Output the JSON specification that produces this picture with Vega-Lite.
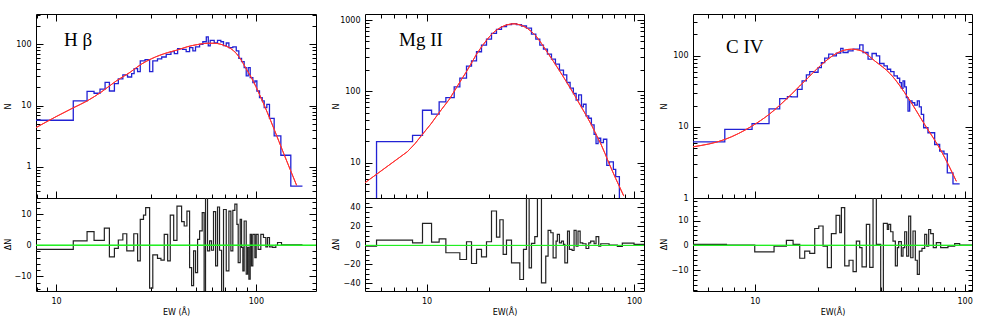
{
"$schema": "https://vega.github.io/schema/vega-lite/v6.json",
"padding": {"left": 3, "top": 13, "right": 0, "bottom": 0},
"background": "white",
"datasets": {
"hb_hist": [{"x":7.94,"y":5.77},{"x":12.2,"y":11.9},{"x":14.3,"y":17.1},{"x":15.5,"y":15.9},{"x":16.6,"y":18.5},{"x":17.6,"y":24.0},{"x":18.5,"y":17.3},{"x":19.6,"y":22.8},{"x":20.5,"y":27.2},{"x":21.6,"y":31.6},{"x":22.8,"y":29.3},{"x":23.9,"y":33.2},{"x":24.6,"y":40.1},{"x":25.6,"y":35.8},{"x":26.4,"y":53.5},{"x":27.9,"y":56.2},{"x":29.4,"y":35.8},{"x":30.5,"y":53.5},{"x":32.2,"y":57.7},{"x":33.8,"y":62.1},{"x":35.6,"y":68.7},{"x":37.6,"y":75.9},{"x":39.1,"y":70.4},{"x":40.6,"y":85},{"x":43.0,"y":82.9},{"x":44.8,"y":76},{"x":46.6,"y":88.2},{"x":48.4,"y":77.9},{"x":49.9,"y":90.5},{"x":52.3,"y":100},{"x":54.3,"y":110},{"x":56.5,"y":132},{"x":57.8,"y":94},{"x":59.1,"y":116},{"x":61.9,"y":105},{"x":64.3,"y":116},{"x":66.8,"y":110},{"x":68.9,"y":95},{"x":71.1,"y":105},{"x":73.3,"y":88.2},{"x":76.7,"y":90.5},{"x":79.8,"y":77.9},{"x":82.2,"y":59.1},{"x":84.8,"y":52.2},{"x":87.4,"y":41.6},{"x":89.5,"y":30.5},{"x":91.6,"y":41.6},{"x":93.7,"y":28.6},{"x":96.6,"y":23.7},{"x":98.9,"y":25.2},{"x":101.2,"y":17.3},{"x":104.3,"y":13.5},{"x":107.6,"y":11.9},{"x":110.1,"y":9.27},{"x":113.5,"y":10.5},{"x":117.0,"y":6.21},{"x":123.5,"y":3.2},{"x":133.4,"y":1.55},{"x":149.6,"y":0.484},{"x":171.1,"y":0.484}],
"hb_fit": [{"x":7.94,"y":4.37},{"x":10,"y":6.6},{"x":12.2,"y":9.2},{"x":14.3,"y":11.9},{"x":17,"y":17},{"x":20,"y":25.2},{"x":23.5,"y":35},{"x":26.6,"y":47},{"x":30,"y":58},{"x":36.1,"y":73},{"x":40.6,"y":81},{"x":45.6,"y":91.6},{"x":51,"y":99},{"x":57.4,"y":104},{"x":62,"y":104},{"x":66.8,"y":100},{"x":71,"y":93},{"x":75,"y":85},{"x":79.8,"y":71},{"x":84,"y":57},{"x":89,"y":41},{"x":94.2,"y":30},{"x":100,"y":20.5},{"x":106,"y":13.5},{"x":114,"y":7.8},{"x":123.5,"y":4.1},{"x":138,"y":1.64},{"x":160,"y":0.5}],
"hb_res": [{"x":7.94,"y":-1.3},{"x":12.2,"y":1.4},{"x":14.3,"y":4.4},{"x":15.5,"y":1.6},{"x":17.45,"y":5.5},{"x":18.5,"y":-3.7},{"x":19.6,"y":-1.0},{"x":20.5,"y":1.7},{"x":21.6,"y":3.7},{"x":22.6,"y":-1.8},{"x":24.5,"y":3.7},{"x":25.6,"y":-5.0},{"x":26.4,"y":8.3},{"x":27.4,"y":9.7},{"x":28.1,"y":12.1},{"x":29.4,"y":-13.8},{"x":30.5,"y":-3.1},{"x":32.2,"y":-4.2},{"x":33.5,"y":-4.8},{"x":34.8,"y":3.5},{"x":36.2,"y":-5.0},{"x":37.3,"y":9.7},{"x":38.8,"y":1.6},{"x":40.3,"y":12.6},{"x":42.5,"y":7.6},{"x":43.8,"y":6.2},{"x":45.2,"y":11.0},{"x":46.6,"y":-7.2},{"x":47.7,"y":-13.0},{"x":48.8,"y":-1.8},{"x":49.9,"y":-8.8},{"x":51.1,"y":1.9},{"x":52.3,"y":4.6},{"x":53.9,"y":10.5},{"x":55.1,"y":-25},{"x":56.0,"y":25},{"x":57.3,"y":-1.8},{"x":58.7,"y":1.4},{"x":60.0,"y":-1.6},{"x":61.4,"y":10.8},{"x":62.9,"y":-6.6},{"x":64.3,"y":12.3},{"x":65.8,"y":-1.6},{"x":67.4,"y":-25},{"x":68.9,"y":11.5},{"x":71.1,"y":-8.2},{"x":73.3,"y":11.0},{"x":75.0,"y":-1.8},{"x":76.7,"y":11.2},{"x":78.5,"y":13.2},{"x":80.4,"y":6.7},{"x":81.6,"y":-5.6},{"x":83.5,"y":8.3},{"x":84.8,"y":-0.7},{"x":86.1,"y":-8.2},{"x":87.4,"y":7.8},{"x":89.5,"y":-9.3},{"x":90.9,"y":-0.7},{"x":92.3,"y":-10.9},{"x":93.7,"y":3.5},{"x":95.1,"y":-6.6},{"x":96.6,"y":3.5},{"x":98.9,"y":-4.0},{"x":100.4,"y":3.5},{"x":102.7,"y":-1.3},{"x":105.9,"y":3.5},{"x":109.2,"y":2.5},{"x":112.2,"y":-0.5},{"x":114.4,"y":2.5},{"x":117.0,"y":-0.5},{"x":121.2,"y":-0.7},{"x":125.9,"y":0},{"x":128.4,"y":0.9},{"x":134.4,"y":0.1},{"x":171.1,"y":0.1}],
"hb_zero": [{"x":7.94,"y":0},{"x":200,"y":0}],
"mg_hist": [{"x":5.73,"y":1},{"x":5.74,"y":19.7},{"x":8.56,"y":24.1},{"x":9.56,"y":54.3},{"x":10.57,"y":47.8},{"x":11.5,"y":71.2},{"x":12.39,"y":81.9},{"x":13.59,"y":115.7},{"x":14.47,"y":153},{"x":15.58,"y":226},{"x":16.47,"y":268},{"x":17.41,"y":359},{"x":18.40,"y":445},{"x":19.45,"y":541},{"x":20.56,"y":650},{"x":21.73,"y":739},{"x":22.97,"y":806},{"x":24.28,"y":860},{"x":25.67,"y":888},{"x":27.13,"y":860},{"x":28.68,"y":824},{"x":30.31,"y":772},{"x":32.04,"y":636},{"x":33.62,"y":541},{"x":35.14,"y":445},{"x":36.6,"y":391},{"x":38.25,"y":333},{"x":40.0,"y":283},{"x":41.8,"y":241},{"x":43.7,"y":198},{"x":45.7,"y":170},{"x":47.4,"y":133},{"x":49.2,"y":110.8},{"x":51.0,"y":93.3},{"x":52.6,"y":75.2},{"x":54.1,"y":89.4},{"x":55.8,"y":60.6},{"x":57.0,"y":66.0},{"x":58.7,"y":45.3},{"x":60.5,"y":42.0},{"x":62.3,"y":33.8},{"x":64.2,"y":25.0},{"x":65.6,"y":18.5},{"x":67.1,"y":22.0},{"x":69.1,"y":19.1},{"x":71.2,"y":21.3},{"x":73.9,"y":9.17},{"x":76.1,"y":10.3},{"x":79.5,"y":8.06},{"x":81.6,"y":6.36},{"x":85.0,"y":1}],
"mg_fit": [{"x":5.05,"y":5.24},{"x":8.09,"y":14.3},{"x":8.8,"y":18.5},{"x":9.56,"y":25.0},{"x":10.5,"y":35},{"x":11.5,"y":50.4},{"x":12.9,"y":78},{"x":14.47,"y":135},{"x":15.5,"y":185},{"x":16.47,"y":250},{"x":17.4,"y":330},{"x":18.4,"y":420},{"x":19.45,"y":520},{"x":20.56,"y":630},{"x":21.7,"y":720},{"x":23,"y":800},{"x":24.3,"y":855},{"x":25.67,"y":882},{"x":26.5,"y":885},{"x":27.5,"y":872},{"x":28.7,"y":840},{"x":30.31,"y":780},{"x":32,"y":690},{"x":33.62,"y":600},{"x":35.8,"y":470},{"x":38.25,"y":350},{"x":40.9,"y":262},{"x":43.7,"y":195},{"x":46.4,"y":148},{"x":49.2,"y":112},{"x":52.2,"y":84},{"x":55.4,"y":62},{"x":58.8,"y":46},{"x":62.3,"y":34},{"x":65.6,"y":25},{"x":69.1,"y":18.5},{"x":72.5,"y":13.4},{"x":76.1,"y":9.5},{"x":81.6,"y":6.0},{"x":89.3,"y":3.4}],
"mg_res": [{"x":5.05,"y":-0.7},{"x":5.74,"y":5.6},{"x":8.56,"y":2.8},{"x":9.56,"y":23.2},{"x":10.57,"y":3.5},{"x":11.5,"y":7.0},{"x":12.39,"y":-7.7},{"x":14.47,"y":-14.8},{"x":15.58,"y":3.9},{"x":16.47,"y":-19},{"x":17.41,"y":-4.2},{"x":18.40,"y":-12},{"x":19.45,"y":3.9},{"x":20.56,"y":36.3},{"x":21.73,"y":8.8},{"x":22.55,"y":27.1},{"x":23.4,"y":-9.5},{"x":24.28,"y":5.6},{"x":25.67,"y":-18.3},{"x":28.15,"y":-35.9},{"x":29.32,"y":-4.2},{"x":30.31,"y":60},{"x":31.22,"y":-23.6},{"x":32.04,"y":2.1},{"x":33.24,"y":9.2},{"x":34.23,"y":60},{"x":35.79,"y":-39.4},{"x":37.54,"y":-11.3},{"x":38.53,"y":15.8},{"x":39.7,"y":13.4},{"x":40.74,"y":-13},{"x":42.1,"y":4.6},{"x":42.7,"y":11.6},{"x":43.7,"y":2.8},{"x":44.7,"y":4.6},{"x":45.7,"y":1.1},{"x":46.4,"y":-18.3},{"x":47.8,"y":15.1},{"x":48.8,"y":-4.2},{"x":50.3,"y":-5.3},{"x":51.4,"y":15.8},{"x":52.6,"y":-0.7},{"x":53.7,"y":15.1},{"x":55.0,"y":2.8},{"x":56.6,"y":1.8},{"x":58.7,"y":-3.2},{"x":60.5,"y":2.8},{"x":61.8,"y":4.6},{"x":64.2,"y":1.8},{"x":65.6,"y":9.2},{"x":67.6,"y":-0.7},{"x":69.1,"y":1.8},{"x":75.8,"y":0.4},{"x":83.1,"y":-1},{"x":87.8,"y":2.5},{"x":100,"y":1.1},{"x":111.7,"y":1.1}],
"mg_zero": [{"x":5.05,"y":0},{"x":111.7,"y":0}],
"civ_hist": [{"x":5.08,"y":6.18},{"x":7.2,"y":9.22},{"x":9.71,"y":11.1},{"x":11.7,"y":18.0},{"x":13.15,"y":25.0},{"x":14.31,"y":26.7},{"x":14.95,"y":26.4},{"x":15.97,"y":33.8},{"x":16.81,"y":44.4},{"x":17.62,"y":53.9},{"x":18.28,"y":60.1},{"x":19.1,"y":58.8},{"x":20.03,"y":68.4},{"x":20.77,"y":80.5},{"x":21.54,"y":92.7},{"x":22.51,"y":105.6},{"x":23.6,"y":100},{"x":24.49,"y":109},{"x":25.68,"y":127},{"x":26.34,"y":111.4},{"x":27.83,"y":117.6},{"x":29.4,"y":124.2},{"x":31.62,"y":143},{"x":32.8,"y":111.4},{"x":34.66,"y":89.7},{"x":36.21,"y":107.9},{"x":37.96,"y":100},{"x":39.37,"y":78.0},{"x":41.29,"y":72.3},{"x":42.82,"y":64.8},{"x":44.42,"y":60.1},{"x":46.08,"y":52.2},{"x":47.8,"y":48.4},{"x":49.04,"y":42.0},{"x":49.94,"y":35.0},{"x":50.86,"y":44.4},{"x":51.8,"y":36.5},{"x":52.75,"y":25.8},{"x":53.73,"y":16.7},{"x":54.72,"y":23.2},{"x":56.14,"y":21.9},{"x":57.82,"y":20.3},{"x":59.5,"y":23.2},{"x":60.82,"y":19.1},{"x":62.17,"y":15.0},{"x":63.78,"y":9.73},{"x":66.87,"y":8.28},{"x":71.97,"y":5.66},{"x":76.03,"y":4.56},{"x":79.7,"y":4.18},{"x":82.67,"y":2.25},{"x":87.99,"y":1.58},{"x":94.67,"y":1.58}],
"civ_fit": [{"x":5.08,"y":5.25},{"x":7.2,"y":6.66},{"x":9.71,"y":10.3},{"x":11.7,"y":15.0},{"x":14.95,"y":28.8},{"x":17.96,"y":49.4},{"x":21.54,"y":82.3},{"x":24.9,"y":111},{"x":28.86,"y":124},{"x":32.2,"y":117.6},{"x":37.27,"y":85},{"x":44.42,"y":55.1},{"x":53.73,"y":25.8},{"x":64.5,"y":10.8},{"x":77.4,"y":4.56},{"x":91.3,"y":1.72}],
"civ_res": [{"x":5.08,"y":0.4},{"x":7.33,"y":0.1},{"x":10.0,"y":-2.6},{"x":12.36,"y":-0.3},{"x":14.15,"y":2.0},{"x":15.23,"y":0.4},{"x":16.38,"y":-5.2},{"x":17.3,"y":-2.3},{"x":18.28,"y":-3.2},{"x":19.31,"y":6.8},{"x":20.18,"y":7.8},{"x":21.16,"y":-0.3},{"x":22.18,"y":-9.0},{"x":23.18,"y":4.7},{"x":24.4,"y":12.1},{"x":25.4,"y":5.1},{"x":25.87,"y":15.2},{"x":26.83,"y":-8.3},{"x":28.14,"y":-6.0},{"x":29.4,"y":-10.6},{"x":30.48,"y":1.7},{"x":31.62,"y":-0.9},{"x":32.44,"y":-8.7},{"x":34.02,"y":8.5},{"x":35.3,"y":-8.9},{"x":36.61,"y":25},{"x":37.96,"y":0.4},{"x":39.81,"y":-25},{"x":41.0,"y":8.9},{"x":42.82,"y":6.4},{"x":43.46,"y":8.5},{"x":44.42,"y":5.5},{"x":45.57,"y":1.7},{"x":46.76,"y":-8.3},{"x":47.8,"y":-0.9},{"x":48.5,"y":1.5},{"x":49.94,"y":-4.3},{"x":50.86,"y":-0.9},{"x":51.8,"y":5.5},{"x":52.94,"y":-4.3},{"x":54.12,"y":11.8},{"x":55.33,"y":-5.0},{"x":56.75,"y":5.8},{"x":58.22,"y":-6.0},{"x":59.5,"y":-11.7},{"x":60.82,"y":-2.3},{"x":62.62,"y":-1.2},{"x":64.51,"y":4.4},{"x":65.94,"y":-0.3},{"x":67.4,"y":6.4},{"x":68.89,"y":4.7},{"x":70.9,"y":-0.9},{"x":73.3,"y":1.1},{"x":76.86,"y":-0.9},{"x":83.27,"y":-0.3},{"x":89.62,"y":0.7},{"x":94.67,"y":0.1},{"x":108.4,"y":0.1}],
"civ_zero": [{"x":5.08,"y":0},{"x":108.4,"y":0}]
},
"hconcat": [
{"vconcat": [
 {"width": 280, "height": 184,
  "layer": [
   {"data": {"name": "hb_hist"}, "mark": {"type": "line", "interpolate": "step-after", "color": "#2222d4", "strokeWidth": 1.3, "clip": true},
    "encoding": {
     "x": {"field": "x", "type": "quantitative", "scale": {"type": "log", "domain": [7.94, 200], "nice": false}, "axis": {"orient": "bottom", "values": [10, 100], "labels": false, "tickSize": -7, "title": null}},
     "y": {"field": "y", "type": "quantitative", "scale": {"type": "log", "domain": [0.311, 312], "nice": false}, "axis": {"orient": "left", "values": [1, 10, 100], "format": "d", "tickSize": -7, "labelPadding": 12, "title": "N", "titleAngle": 270, "titleX": -28, "titleY": 92, "titleAlign": "center", "titleBaseline": "middle"}}}},
   {"data": {"name": "hb_fit"}, "mark": {"type": "line", "interpolate": "monotone", "color": "#ff3030", "strokeWidth": 1, "clip": true},
    "encoding": {
     "x": {"field": "x", "type": "quantitative", "scale": {"type": "log", "domain": [7.94, 200], "nice": false}, "axis": {"orient": "bottom", "values": [8, 9, 20, 30, 40, 50, 60, 70, 80, 90], "labels": false, "tickSize": -4, "title": null}},
     "y": {"field": "y", "type": "quantitative", "scale": {"type": "log", "domain": [0.311, 312], "nice": false}, "axis": {"orient": "left", "values": [0.4, 0.5, 0.6, 0.7, 0.8, 0.9, 2, 3, 4, 5, 6, 7, 8, 9, 20, 30, 40, 50, 60, 70, 80, 90, 200, 300], "labels": false, "tickSize": -4, "title": null}}}},
   {"data": {"values": [{"x": 10.96, "y": 93.8, "t": "H β"}]}, "mark": {"type": "text", "align": "left", "baseline": "alphabetic", "font": "Liberation Serif", "fontSize": 19, "color": "black"},
    "encoding": {
     "x": {"field": "x", "type": "quantitative", "scale": {"type": "log", "domain": [7.94, 200], "nice": false}, "axis": {"orient": "top", "values": [10, 100], "labels": false, "tickSize": -7, "title": null}},
     "y": {"field": "y", "type": "quantitative", "scale": {"type": "log", "domain": [0.311, 312], "nice": false}, "axis": {"orient": "right", "values": [1, 10, 100], "labels": false, "tickSize": -7, "title": null}},
     "text": {"field": "t"}}},
   {"data": {"name": "hb_fit"}, "mark": {"type": "line", "interpolate": "monotone", "color": "#ff3030", "strokeWidth": 1, "clip": true},
    "encoding": {
     "x": {"field": "x", "type": "quantitative", "scale": {"type": "log", "domain": [7.94, 200], "nice": false}, "axis": {"orient": "top", "values": [8, 9, 20, 30, 40, 50, 60, 70, 80, 90], "labels": false, "tickSize": -4, "title": null}},
     "y": {"field": "y", "type": "quantitative", "scale": {"type": "log", "domain": [0.311, 312], "nice": false}, "axis": {"orient": "right", "values": [0.4, 0.5, 0.6, 0.7, 0.8, 0.9, 2, 3, 4, 5, 6, 7, 8, 9, 20, 30, 40, 50, 60, 70, 80, 90, 200, 300], "labels": false, "tickSize": -4, "title": null}}}}
  ],
  "resolve": {"axis": {"x": "independent", "y": "independent"}}},
 {"width": 280, "height": 93,
  "layer": [
   {"data": {"name": "hb_res"}, "mark": {"type": "line", "interpolate": "step-after", "color": "#222222", "strokeWidth": 1.2, "clip": true},
    "encoding": {
     "x": {"field": "x", "type": "quantitative", "scale": {"type": "log", "domain": [7.94, 200], "nice": false}, "axis": {"orient": "bottom", "values": [10, 100], "format": "d", "tickSize": -7, "labelPadding": 13, "title": "EW (Å)", "titleY": 21, "titleBaseline": "middle"}},
     "y": {"field": "y", "type": "quantitative", "scale": {"domain": [-14.7, 15.2], "nice": false, "zero": false}, "axis": {"orient": "left", "values": [-10, 0, 10], "format": "d", "tickSize": -7, "labelPadding": 12, "title": "ΔN", "titleAngle": 270, "titleX": -28, "titleY": 46, "titleAlign": "center", "titleBaseline": "middle"}}}},
   {"data": {"name": "hb_zero"}, "mark": {"type": "line", "color": "#22ee22", "strokeWidth": 1, "clip": true},
    "encoding": {
     "x": {"field": "x", "type": "quantitative", "scale": {"type": "log", "domain": [7.94, 200], "nice": false}, "axis": {"orient": "bottom", "values": [8, 9, 20, 30, 40, 50, 60, 70, 80, 90], "labels": false, "tickSize": -4, "title": null}},
     "y": {"field": "y", "type": "quantitative", "scale": {"domain": [-14.7, 15.2], "nice": false, "zero": false}, "axis": {"orient": "left", "values": [-14, -12, -8, -6, -4, -2, 2, 4, 6, 8, 12, 14], "labels": false, "tickSize": -4, "title": null}}}},
   {"data": {"name": "hb_zero"}, "mark": {"type": "line", "color": "#22ee22", "strokeWidth": 1, "clip": true},
    "encoding": {
     "x": {"field": "x", "type": "quantitative", "scale": {"type": "log", "domain": [7.94, 200], "nice": false}, "axis": null},
     "y": {"field": "y", "type": "quantitative", "scale": {"domain": [-14.7, 15.2], "nice": false, "zero": false}, "axis": {"orient": "right", "values": [-10, 0, 10], "labels": false, "tickSize": -7, "title": null}}}},
   {"data": {"name": "hb_zero"}, "mark": {"type": "line", "color": "#22ee22", "strokeWidth": 1, "clip": true},
    "encoding": {
     "x": {"field": "x", "type": "quantitative", "scale": {"type": "log", "domain": [7.94, 200], "nice": false}, "axis": null},
     "y": {"field": "y", "type": "quantitative", "scale": {"domain": [-14.7, 15.2], "nice": false, "zero": false}, "axis": {"orient": "right", "values": [-14, -12, -8, -6, -4, -2, 2, 4, 6, 8, 12, 14], "labels": false, "tickSize": -4, "title": null}}}}
  ],
  "resolve": {"axis": {"x": "independent", "y": "independent"}}}
 ], "spacing": 0, "bounds": "flush"},
{"vconcat": [
 {"width": 279, "height": 184,
  "layer": [
   {"data": {"name": "mg_hist"}, "mark": {"type": "line", "interpolate": "step-after", "color": "#2222d4", "strokeWidth": 1.3, "clip": true},
    "encoding": {
     "x": {"field": "x", "type": "quantitative", "scale": {"type": "log", "domain": [5.05, 111.7], "nice": false}, "axis": {"orient": "bottom", "values": [10, 100], "labels": false, "tickSize": -7, "title": null}},
     "y": {"field": "y", "type": "quantitative", "scale": {"type": "log", "domain": [3.2, 1214], "nice": false}, "axis": {"orient": "left", "values": [10, 100, 1000], "format": "d", "tickSize": -7, "labelPadding": 12, "title": "N", "titleAngle": 270, "titleX": -29, "titleY": 92, "titleAlign": "center", "titleBaseline": "middle"}}}},
   {"data": {"name": "mg_fit"}, "mark": {"type": "line", "interpolate": "linear", "color": "#ff3030", "strokeWidth": 1, "clip": true},
    "encoding": {
     "x": {"field": "x", "type": "quantitative", "scale": {"type": "log", "domain": [5.05, 111.7], "nice": false}, "axis": {"orient": "bottom", "values": [6, 7, 8, 9, 20, 30, 40, 50, 60, 70, 80, 90], "labels": false, "tickSize": -4, "title": null}},
     "y": {"field": "y", "type": "quantitative", "scale": {"type": "log", "domain": [3.2, 1214], "nice": false}, "axis": {"orient": "left", "values": [4, 5, 6, 7, 8, 9, 20, 30, 40, 50, 60, 70, 80, 90, 200, 300, 400, 500, 600, 700, 800, 900], "labels": false, "tickSize": -4, "title": null}}}},
   {"data": {"values": [{"x": 7.37, "y": 435, "t": "Mg II"}]}, "mark": {"type": "text", "align": "left", "baseline": "alphabetic", "font": "Liberation Serif", "fontSize": 19, "color": "black"},
    "encoding": {
     "x": {"field": "x", "type": "quantitative", "scale": {"type": "log", "domain": [5.05, 111.7], "nice": false}, "axis": {"orient": "top", "values": [10, 100], "labels": false, "tickSize": -7, "title": null}},
     "y": {"field": "y", "type": "quantitative", "scale": {"type": "log", "domain": [3.2, 1214], "nice": false}, "axis": {"orient": "right", "values": [10, 100, 1000], "labels": false, "tickSize": -7, "title": null}},
     "text": {"field": "t"}}},
   {"data": {"name": "mg_fit"}, "mark": {"type": "line", "interpolate": "linear", "color": "#ff3030", "strokeWidth": 1, "clip": true},
    "encoding": {
     "x": {"field": "x", "type": "quantitative", "scale": {"type": "log", "domain": [5.05, 111.7], "nice": false}, "axis": {"orient": "top", "values": [6, 7, 8, 9, 20, 30, 40, 50, 60, 70, 80, 90], "labels": false, "tickSize": -4, "title": null}},
     "y": {"field": "y", "type": "quantitative", "scale": {"type": "log", "domain": [3.2, 1214], "nice": false}, "axis": {"orient": "right", "values": [4, 5, 6, 7, 8, 9, 20, 30, 40, 50, 60, 70, 80, 90, 200, 300, 400, 500, 600, 700, 800, 900], "labels": false, "tickSize": -4, "title": null}}}}
  ],
  "resolve": {"axis": {"x": "independent", "y": "independent"}}},
 {"width": 279, "height": 93,
  "layer": [
   {"data": {"name": "mg_res"}, "mark": {"type": "line", "interpolate": "step-after", "color": "#222222", "strokeWidth": 1.2, "clip": true},
    "encoding": {
     "x": {"field": "x", "type": "quantitative", "scale": {"type": "log", "domain": [5.05, 111.7], "nice": false}, "axis": {"orient": "bottom", "values": [10, 100], "format": "d", "tickSize": -7, "labelPadding": 13, "title": "EW(Å)", "titleY": 21, "titleBaseline": "middle"}},
     "y": {"field": "y", "type": "quantitative", "scale": {"domain": [-48, 50], "nice": false, "zero": false}, "axis": {"orient": "left", "values": [-40, -20, 0, 20, 40], "format": "d", "tickSize": -7, "labelPadding": 12, "title": "ΔN", "titleAngle": 270, "titleX": -29, "titleY": 46, "titleAlign": "center", "titleBaseline": "middle"}}}},
   {"data": {"name": "mg_zero"}, "mark": {"type": "line", "color": "#22ee22", "strokeWidth": 1, "clip": true},
    "encoding": {
     "x": {"field": "x", "type": "quantitative", "scale": {"type": "log", "domain": [5.05, 111.7], "nice": false}, "axis": {"orient": "bottom", "values": [6, 7, 8, 9, 20, 30, 40, 50, 60, 70, 80, 90], "labels": false, "tickSize": -4, "title": null}},
     "y": {"field": "y", "type": "quantitative", "scale": {"domain": [-48, 50], "nice": false, "zero": false}, "axis": {"orient": "left", "values": [-45, -35, -30, -25, -15, -10, -5, 5, 10, 15, 25, 30, 35, 45], "labels": false, "tickSize": -4, "title": null}}}},
   {"data": {"name": "mg_zero"}, "mark": {"type": "line", "color": "#22ee22", "strokeWidth": 1, "clip": true},
    "encoding": {
     "x": {"field": "x", "type": "quantitative", "scale": {"type": "log", "domain": [5.05, 111.7], "nice": false}, "axis": null},
     "y": {"field": "y", "type": "quantitative", "scale": {"domain": [-48, 50], "nice": false, "zero": false}, "axis": {"orient": "right", "values": [-40, -20, 0, 20, 40], "labels": false, "tickSize": -7, "title": null}}}},
   {"data": {"name": "mg_zero"}, "mark": {"type": "line", "color": "#22ee22", "strokeWidth": 1, "clip": true},
    "encoding": {
     "x": {"field": "x", "type": "quantitative", "scale": {"type": "log", "domain": [5.05, 111.7], "nice": false}, "axis": null},
     "y": {"field": "y", "type": "quantitative", "scale": {"domain": [-48, 50], "nice": false, "zero": false}, "axis": {"orient": "right", "values": [-45, -35, -30, -25, -15, -10, -5, 5, 10, 15, 25, 30, 35, 45], "labels": false, "tickSize": -4, "title": null}}}}
  ],
  "resolve": {"axis": {"x": "independent", "y": "independent"}}}
 ], "spacing": 0, "bounds": "flush"},
{"vconcat": [
 {"width": 279, "height": 184,
  "layer": [
   {"data": {"name": "civ_hist"}, "mark": {"type": "line", "interpolate": "step-after", "color": "#2222d4", "strokeWidth": 1.3, "clip": true},
    "encoding": {
     "x": {"field": "x", "type": "quantitative", "scale": {"type": "log", "domain": [5.08, 108.4], "nice": false}, "axis": {"orient": "bottom", "values": [10, 100], "labels": false, "tickSize": -7, "title": null}},
     "y": {"field": "y", "type": "quantitative", "scale": {"type": "log", "domain": [1, 388], "nice": false}, "axis": {"orient": "left", "values": [1, 10, 100], "format": "d", "tickSize": -7, "labelPadding": 12, "title": "N", "titleAngle": 270, "titleX": -29, "titleY": 92, "titleAlign": "center", "titleBaseline": "middle"}}}},
   {"data": {"name": "civ_fit"}, "mark": {"type": "line", "interpolate": "monotone", "color": "#ff3030", "strokeWidth": 1, "clip": true},
    "encoding": {
     "x": {"field": "x", "type": "quantitative", "scale": {"type": "log", "domain": [5.08, 108.4], "nice": false}, "axis": {"orient": "bottom", "values": [6, 7, 8, 9, 20, 30, 40, 50, 60, 70, 80, 90], "labels": false, "tickSize": -4, "title": null}},
     "y": {"field": "y", "type": "quantitative", "scale": {"type": "log", "domain": [1, 388], "nice": false}, "axis": {"orient": "left", "values": [2, 3, 4, 5, 6, 7, 8, 9, 20, 30, 40, 50, 60, 70, 80, 90, 200, 300], "labels": false, "tickSize": -4, "title": null}}}},
   {"data": {"values": [{"x": 7.3, "y": 110, "t": "C IV"}]}, "mark": {"type": "text", "align": "left", "baseline": "alphabetic", "font": "Liberation Serif", "fontSize": 19, "color": "black"},
    "encoding": {
     "x": {"field": "x", "type": "quantitative", "scale": {"type": "log", "domain": [5.08, 108.4], "nice": false}, "axis": {"orient": "top", "values": [10, 100], "labels": false, "tickSize": -7, "title": null}},
     "y": {"field": "y", "type": "quantitative", "scale": {"type": "log", "domain": [1, 388], "nice": false}, "axis": {"orient": "right", "values": [1, 10, 100], "labels": false, "tickSize": -7, "title": null}},
     "text": {"field": "t"}}},
   {"data": {"name": "civ_fit"}, "mark": {"type": "line", "interpolate": "monotone", "color": "#ff3030", "strokeWidth": 1, "clip": true},
    "encoding": {
     "x": {"field": "x", "type": "quantitative", "scale": {"type": "log", "domain": [5.08, 108.4], "nice": false}, "axis": {"orient": "top", "values": [6, 7, 8, 9, 20, 30, 40, 50, 60, 70, 80, 90], "labels": false, "tickSize": -4, "title": null}},
     "y": {"field": "y", "type": "quantitative", "scale": {"type": "log", "domain": [1, 388], "nice": false}, "axis": {"orient": "right", "values": [2, 3, 4, 5, 6, 7, 8, 9, 20, 30, 40, 50, 60, 70, 80, 90, 200, 300], "labels": false, "tickSize": -4, "title": null}}}}
  ],
  "resolve": {"axis": {"x": "independent", "y": "independent"}}},
 {"width": 279, "height": 93,
  "layer": [
   {"data": {"name": "civ_res"}, "mark": {"type": "line", "interpolate": "step-after", "color": "#222222", "strokeWidth": 1.2, "clip": true},
    "encoding": {
     "x": {"field": "x", "type": "quantitative", "scale": {"type": "log", "domain": [5.08, 108.4], "nice": false}, "axis": {"orient": "bottom", "values": [10, 100], "format": "d", "tickSize": -7, "labelPadding": 13, "title": "EW(Å)", "titleY": 21, "titleBaseline": "middle"}},
     "y": {"field": "y", "type": "quantitative", "scale": {"domain": [-18.4, 19.1], "nice": false, "zero": false}, "axis": {"orient": "left", "values": [-10, 0, 10], "format": "d", "tickSize": -7, "labelPadding": 12, "title": "ΔN", "titleAngle": 270, "titleX": -29, "titleY": 46, "titleAlign": "center", "titleBaseline": "middle"}}}},
   {"data": {"name": "civ_zero"}, "mark": {"type": "line", "color": "#22ee22", "strokeWidth": 1, "clip": true},
    "encoding": {
     "x": {"field": "x", "type": "quantitative", "scale": {"type": "log", "domain": [5.08, 108.4], "nice": false}, "axis": {"orient": "bottom", "values": [6, 7, 8, 9, 20, 30, 40, 50, 60, 70, 80, 90], "labels": false, "tickSize": -4, "title": null}},
     "y": {"field": "y", "type": "quantitative", "scale": {"domain": [-18.4, 19.1], "nice": false, "zero": false}, "axis": {"orient": "left", "values": [-18, -16, -14, -12, -8, -6, -4, -2, 2, 4, 6, 8, 12, 14, 16, 18], "labels": false, "tickSize": -4, "title": null}}}},
   {"data": {"name": "civ_zero"}, "mark": {"type": "line", "color": "#22ee22", "strokeWidth": 1, "clip": true},
    "encoding": {
     "x": {"field": "x", "type": "quantitative", "scale": {"type": "log", "domain": [5.08, 108.4], "nice": false}, "axis": null},
     "y": {"field": "y", "type": "quantitative", "scale": {"domain": [-18.4, 19.1], "nice": false, "zero": false}, "axis": {"orient": "right", "values": [-10, 0, 10], "labels": false, "tickSize": -7, "title": null}}}},
   {"data": {"name": "civ_zero"}, "mark": {"type": "line", "color": "#22ee22", "strokeWidth": 1, "clip": true},
    "encoding": {
     "x": {"field": "x", "type": "quantitative", "scale": {"type": "log", "domain": [5.08, 108.4], "nice": false}, "axis": null},
     "y": {"field": "y", "type": "quantitative", "scale": {"domain": [-18.4, 19.1], "nice": false, "zero": false}, "axis": {"orient": "right", "values": [-18, -16, -14, -12, -8, -6, -4, -2, 2, 4, 6, 8, 12, 14, 16, 18], "labels": false, "tickSize": -4, "title": null}}}}
  ],
  "resolve": {"axis": {"x": "independent", "y": "independent"}}}
 ], "spacing": 0, "bounds": "flush"}
],
"spacing": 14,
"bounds": "full",
"config": {
 "view": {"stroke": "black", "strokeWidth": 1},
 "axis": {"domain": false, "grid": false, "tickColor": "black", "tickWidth": 1, "labelFont": "DejaVu Sans", "labelFontSize": 8, "labelColor": "black", "titleFont": "DejaVu Sans", "titleFontSize": 8, "titleFontWeight": "normal", "titleColor": "black"}
}
}
